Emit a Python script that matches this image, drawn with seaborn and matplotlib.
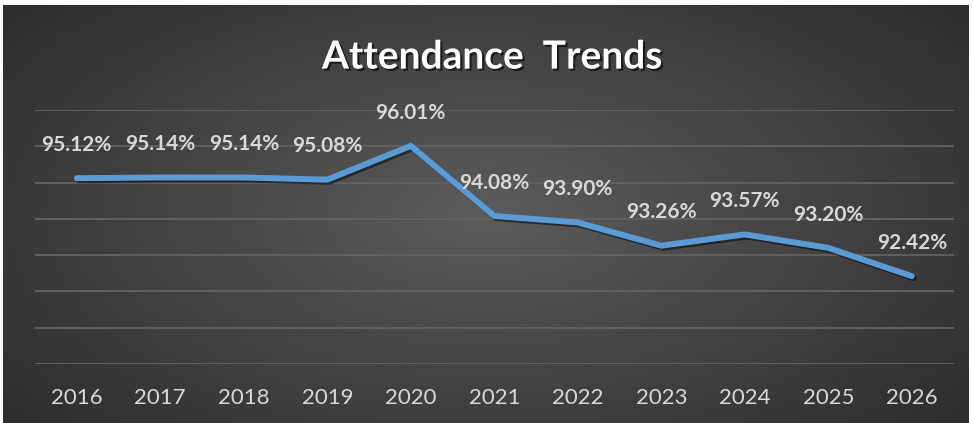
import numpy as np
import pandas as pd
import seaborn as sns
import matplotlib.pyplot as plt
import matplotlib.patheffects as pe

# Data
years = ["2016", "2017", "2018", "2019", "2020", "2021", "2022", "2023", "2024", "2025", "2026"]
attendance = [95.12, 95.14, 95.14, 95.08, 96.01, 94.08, 93.90, 93.26, 93.57, 93.20, 92.42]

df = pd.DataFrame({"year": years, "attendance": attendance})

sns.set_theme(style="dark")
plt.rcParams["font.family"] = ["Lato", "DejaVu Sans"]

fig = plt.figure(figsize=(9.73, 4.23), dpi=100)
fig.patch.set_facecolor("white")

# Radial gradient background
bg = fig.add_axes([0.003, 0.0, 0.992, 0.988])
yy, xx = np.mgrid[0:1:300j, 0:1:600j]
r = np.sqrt(((xx - 0.5) / 0.72) ** 2 + ((yy - 0.5) / 0.85) ** 2)
r = np.clip(r, 0, 1)
inner, outer = np.array([0x5c, 0x5c, 0x5c]) / 255, np.array([0x28, 0x28, 0x28]) / 255
img = inner[None, None, :] * (1 - r[..., None]) + outer[None, None, :] * r[..., None]
bg.imshow(img, aspect="auto", extent=[0, 1, 0, 1], origin="lower")
bg.set_axis_off()

ax = fig.add_axes([0.036, 0.1395, 0.944, 0.6005])
ax.patch.set_alpha(0)

sns.lineplot(data=df, x="year", y="attendance", ax=ax, color="#5B9BD5", linewidth=4.3,
             sort=False,
             path_effects=[pe.SimpleLineShadow(offset=(1.5, -1.5), shadow_color="black", alpha=0.5),
                           pe.Normal()])

for i, v in enumerate(attendance):
    ax.annotate(f"{v:.2f}%", (i, v), xytext=(0, 24), textcoords="offset points",
                ha="center", va="center", color="#D9D9D9", fontsize=15, fontweight="bold")

ax.set_xlim(-0.5, len(years) - 0.5)
ax.set_ylim(90, 97)
ax.set_yticks(np.arange(90, 98, 1))
ax.set_yticklabels([])
ax.tick_params(axis="y", length=0)
ax.tick_params(axis="x", length=0, colors="#D9D9D9", labelsize=16, pad=17)
ax.grid(axis="y", color="#626262", linewidth=1.3)
ax.grid(axis="x", visible=False)
ax.set_xlabel("")
ax.set_ylabel("")
for s in ax.spines.values():
    s.set_visible(False)

fig.text(0.506, 0.865, "Attendance  Trends", ha="center", va="center", color="white",
         fontsize=28, fontweight="bold",
         path_effects=[pe.withSimplePatchShadow(offset=(1.5, -1.5), shadow_rgbFace="black", alpha=0.6)])

fig.savefig("out.png", dpi=100, facecolor=fig.get_facecolor())
